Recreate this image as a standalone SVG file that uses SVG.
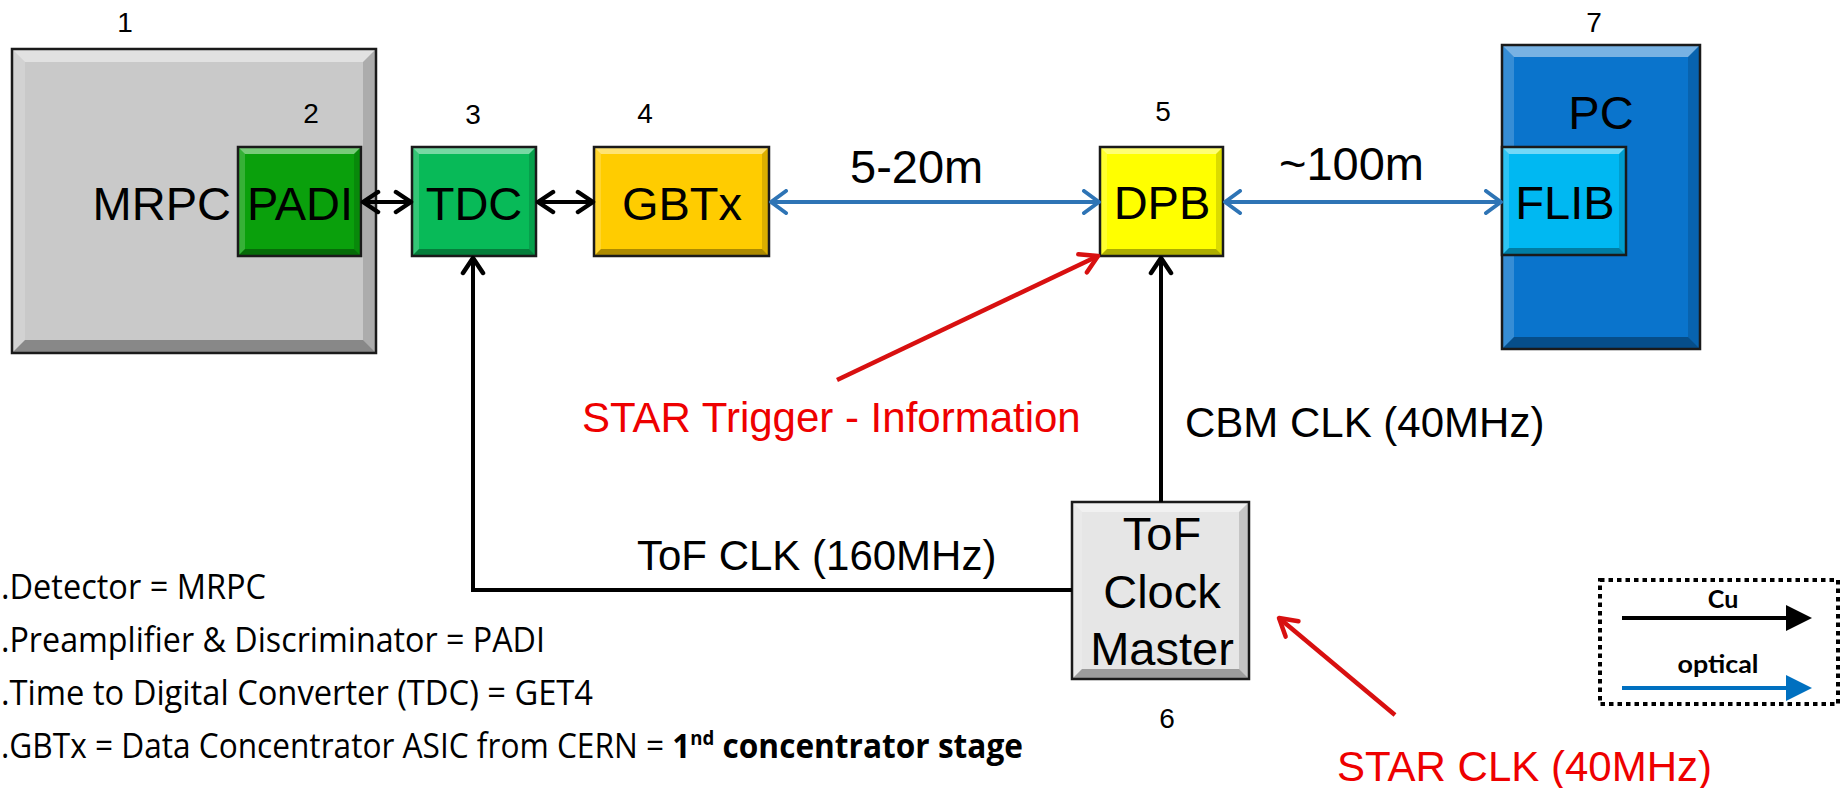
<svg xmlns="http://www.w3.org/2000/svg" width="1840" height="788" viewBox="0 0 1840 788">
<style>
  .box { stroke: #1a1a1a; stroke-width: 2.5; }
  .hl { fill: #ffffff; opacity: 0.45; }
  .hl2 { fill: #ffffff; opacity: 0.18; }
  .sd { fill: #000000; opacity: 0.14; }
  .sd2 { fill: #000000; opacity: 0.32; }
  .lbl { font-family: "Liberation Sans", Arial, sans-serif; font-size: 47px; fill: #000; }
  .num { font-family: "Liberation Sans", Arial, sans-serif; font-size: 28px; fill: #000; text-anchor: middle; }
  .cap { font-family: "Liberation Sans", Arial, sans-serif; font-size: 42px; fill: #000; }
  .red { fill: #ee0000; }
  .desc { font-family: "Open Sans", "Noto Sans", sans-serif; font-size: 34px; fill: #000; }
  .leg { font-family: "Lato", "DejaVu Sans", sans-serif; font-weight: bold; font-size: 25px; fill: #000; text-anchor: middle; }
  .cu { stroke: #000; stroke-width: 4; fill: none; }
  .opt { stroke: #2e74b5; stroke-width: 4; fill: none; }
  .rd { stroke: #d81010; stroke-width: 4.5; fill: none; }
</style>
<defs>
  <marker id="ahK" viewBox="-19 -13 22 26" refX="0" refY="0" markerWidth="22" markerHeight="26" markerUnits="userSpaceOnUse" orient="auto-start-reverse">
    <path d="M-15,-10 L0,0 L-15,10" fill="none" stroke="#000" stroke-width="4.5" stroke-linecap="round" stroke-linejoin="round"/>
  </marker>
  <marker id="ahB" viewBox="-19 -13 22 26" refX="0" refY="0" markerWidth="22" markerHeight="26" markerUnits="userSpaceOnUse" orient="auto-start-reverse">
    <path d="M-15,-11 L0,0 L-15,11" fill="none" stroke="#2e74b5" stroke-width="4" stroke-linecap="round" stroke-linejoin="round"/>
  </marker>
  <marker id="ahR" viewBox="-21 -14 24 28" refX="0" refY="0" markerWidth="24" markerHeight="28" markerUnits="userSpaceOnUse" orient="auto">
    <path d="M-17,-10 L0,0 L-17,10" fill="none" stroke="#d81010" stroke-width="4.5" stroke-linecap="round" stroke-linejoin="round"/>
  </marker>
</defs>
<rect x="0" y="0" width="1840" height="788" fill="#ffffff"/>

<!-- Node 1: MRPC -->
<g id="node-mrpc">
  <rect x="12" y="49" width="364" height="304" fill="#c9c9c9"/>
  <polygon class="hl" points="12,49 376,49 363,62 25,62"/>
  <polygon class="hl2" points="12,49 25,62 25,340 12,353"/>
  <polygon class="sd" points="376,49 376,353 363,340 363,62"/>
  <polygon class="sd2" points="12,353 376,353 363,340 25,340"/>
  <rect class="box" x="12" y="49" width="364" height="304" fill="none"/>
  <text class="num" x="125" y="32">1</text>
  <text class="lbl" x="231" y="220" text-anchor="end">MRPC</text>
</g>

<!-- Node 2: PADI -->
<g id="node-padi">
  <rect x="238" y="147" width="123" height="109" fill="#0aa00c"/>
  <polygon class="hl" points="238,147 361,147 354,154 245,154"/>
  <polygon class="hl2" points="238,147 245,154 245,249 238,256"/>
  <polygon class="sd" points="361,147 361,256 354,249 354,154"/>
  <polygon class="sd2" points="238,256 361,256 354,249 245,249"/>
  <rect class="box" x="238" y="147" width="123" height="109" fill="none"/>
  <text class="num" x="311" y="123">2</text>
  <text class="lbl" x="300" y="220" text-anchor="middle">PADI</text>
</g>

<!-- Node 3: TDC -->
<g id="node-tdc">
  <rect x="412" y="147" width="124" height="109" fill="#08ba58"/>
  <polygon class="hl" points="412,147 536,147 529,154 419,154"/>
  <polygon class="hl2" points="412,147 419,154 419,249 412,256"/>
  <polygon class="sd" points="536,147 536,256 529,249 529,154"/>
  <polygon class="sd2" points="412,256 536,256 529,249 419,249"/>
  <rect class="box" x="412" y="147" width="124" height="109" fill="none"/>
  <text class="num" x="473" y="124">3</text>
  <text class="lbl" x="474" y="220" text-anchor="middle">TDC</text>
</g>

<!-- Node 4: GBTx -->
<g id="node-gbtx">
  <rect x="594" y="147" width="175" height="109" fill="#ffcc00"/>
  <polygon class="hl" points="594,147 769,147 762,154 601,154"/>
  <polygon class="hl2" points="594,147 601,154 601,249 594,256"/>
  <polygon class="sd" points="769,147 769,256 762,249 762,154"/>
  <polygon class="sd2" points="594,256 769,256 762,249 601,249"/>
  <rect class="box" x="594" y="147" width="175" height="109" fill="none"/>
  <text class="num" x="645" y="123">4</text>
  <text class="lbl" x="682" y="220" text-anchor="middle">GBTx</text>
</g>

<!-- Node 5: DPB -->
<g id="node-dpb">
  <rect x="1100" y="147" width="123" height="109" fill="#ffff00"/>
  <polygon class="hl" points="1100,147 1223,147 1216,154 1107,154"/>
  <polygon class="hl2" points="1100,147 1107,154 1107,249 1100,256"/>
  <polygon class="sd" points="1223,147 1223,256 1216,249 1216,154"/>
  <polygon class="sd2" points="1100,256 1223,256 1216,249 1107,249"/>
  <rect class="box" x="1100" y="147" width="123" height="109" fill="none"/>
  <text class="num" x="1163" y="121">5</text>
  <text class="lbl" x="1162" y="219" text-anchor="middle">DPB</text>
</g>

<!-- Node 7: PC -->
<g id="node-pc">
  <rect x="1502" y="45" width="198" height="304" fill="#0a74cc"/>
  <polygon class="hl" points="1502,45 1700,45 1688,57 1514,57"/>
  <polygon class="hl2" points="1502,45 1514,57 1514,337 1502,349"/>
  <polygon class="sd" points="1700,45 1700,349 1688,337 1688,57"/>
  <polygon class="sd2" points="1502,349 1700,349 1688,337 1514,337"/>
  <rect class="box" x="1502" y="45" width="198" height="304" fill="none"/>
  <text class="num" x="1594" y="32">7</text>
  <text class="lbl" x="1601" y="129" text-anchor="middle">PC</text>
</g>

<!-- FLIB inside PC -->
<g id="node-flib">
  <rect x="1502" y="147" width="124" height="108" fill="#00b8f2"/>
  <polygon class="hl" points="1502,147 1626,147 1619,154 1509,154"/>
  <polygon class="hl2" points="1502,147 1509,154 1509,248 1502,255"/>
  <polygon class="sd" points="1626,147 1626,255 1619,248 1619,154"/>
  <polygon class="sd2" points="1502,255 1626,255 1619,248 1509,248"/>
  <rect class="box" x="1502" y="147" width="124" height="108" fill="none"/>
  <text class="lbl" x="1565" y="219" text-anchor="middle">FLIB</text>
</g>

<!-- Node 6: ToF Clock Master -->
<g id="node-clock">
  <rect x="1072" y="502" width="177" height="177" fill="#e6e6e6"/>
  <polygon class="hl" points="1072,502 1249,502 1239,512 1082,512"/>
  <polygon class="hl2" points="1072,502 1082,512 1082,669 1072,679"/>
  <polygon class="sd" points="1249,502 1249,679 1239,669 1239,512"/>
  <polygon class="sd2" points="1072,679 1249,679 1239,669 1082,669"/>
  <rect class="box" x="1072" y="502" width="177" height="177" fill="none"/>
  <text class="lbl" x="1162" y="550" text-anchor="middle">ToF</text>
  <text class="lbl" x="1162" y="608" text-anchor="middle">Clock</text>
  <text class="lbl" x="1162" y="665" text-anchor="middle">Master</text>
  <text class="num" x="1167" y="728">6</text>
</g>

<!-- Connectors -->
<g id="connectors">
  <line class="cu" x1="363" y1="202" x2="411" y2="202" marker-start="url(#ahK)" marker-end="url(#ahK)"/>
  <line class="cu" x1="538" y1="202" x2="593" y2="202" marker-start="url(#ahK)" marker-end="url(#ahK)"/>
  <line class="opt" x1="771" y1="202" x2="1099" y2="202" marker-start="url(#ahB)" marker-end="url(#ahB)"/>
  <line class="opt" x1="1225" y1="202" x2="1501" y2="202" marker-start="url(#ahB)" marker-end="url(#ahB)"/>
  <polyline class="cu" points="1072,590 473,590 473,258" marker-end="url(#ahK)"/>
  <line class="cu" x1="1161" y1="502" x2="1161" y2="258" marker-end="url(#ahK)"/>
  <line class="rd" x1="837" y1="380" x2="1098" y2="256" marker-end="url(#ahR)"/>
  <line class="rd" x1="1395" y1="715" x2="1279" y2="618" marker-end="url(#ahR)"/>
  <text class="lbl" x="850" y="183">5-20m</text>
  <text class="lbl" x="1279" y="180">~100m</text>
  <text class="cap" x="1185" y="437">CBM CLK (40MHz)</text>
  <text class="cap" x="637" y="570">ToF CLK (160MHz)</text>
  <text class="cap red" x="582" y="432">STAR Trigger - Information</text>
  <text class="cap red" x="1337" y="781">STAR CLK (40MHz)</text>
</g>

<!-- Legend -->
<g id="legend">
  <rect x="1600" y="580" width="238" height="124" fill="none" stroke="#000" stroke-width="4" stroke-dasharray="4.5 4"/>
  <line x1="1622" y1="618" x2="1788" y2="618" stroke="#000" stroke-width="4"/>
  <polygon points="1786,605 1812,618 1786,631" fill="#000"/>
  <text class="leg" x="1723" y="608">Cu</text>
  <line x1="1622" y1="688" x2="1788" y2="688" stroke="#0070c0" stroke-width="4"/>
  <polygon points="1786,675 1812,688 1786,701" fill="#0070c0"/>
  <text class="leg" x="1718" y="673" textLength="81" lengthAdjust="spacingAndGlyphs">optical</text>
</g>

<!-- Description text -->
<g id="description">
  <text class="desc" x="1" y="599" textLength="265" lengthAdjust="spacingAndGlyphs">.Detector = MRPC</text>
  <text class="desc" x="1" y="652" textLength="544" lengthAdjust="spacingAndGlyphs">.Preamplifier &amp; Discriminator = PADI</text>
  <text class="desc" x="1" y="705" textLength="592" lengthAdjust="spacingAndGlyphs">.Time to Digital Converter (TDC) = GET4</text>
  <text class="desc" x="1" y="758" textLength="1022" lengthAdjust="spacingAndGlyphs">.GBTx = Data Concentrator ASIC from CERN = <tspan font-weight="bold">1</tspan><tspan font-weight="bold" font-size="20" dy="-13">nd</tspan><tspan font-weight="bold" dy="13"> concentrator stage</tspan></text>
</g>
</svg>
